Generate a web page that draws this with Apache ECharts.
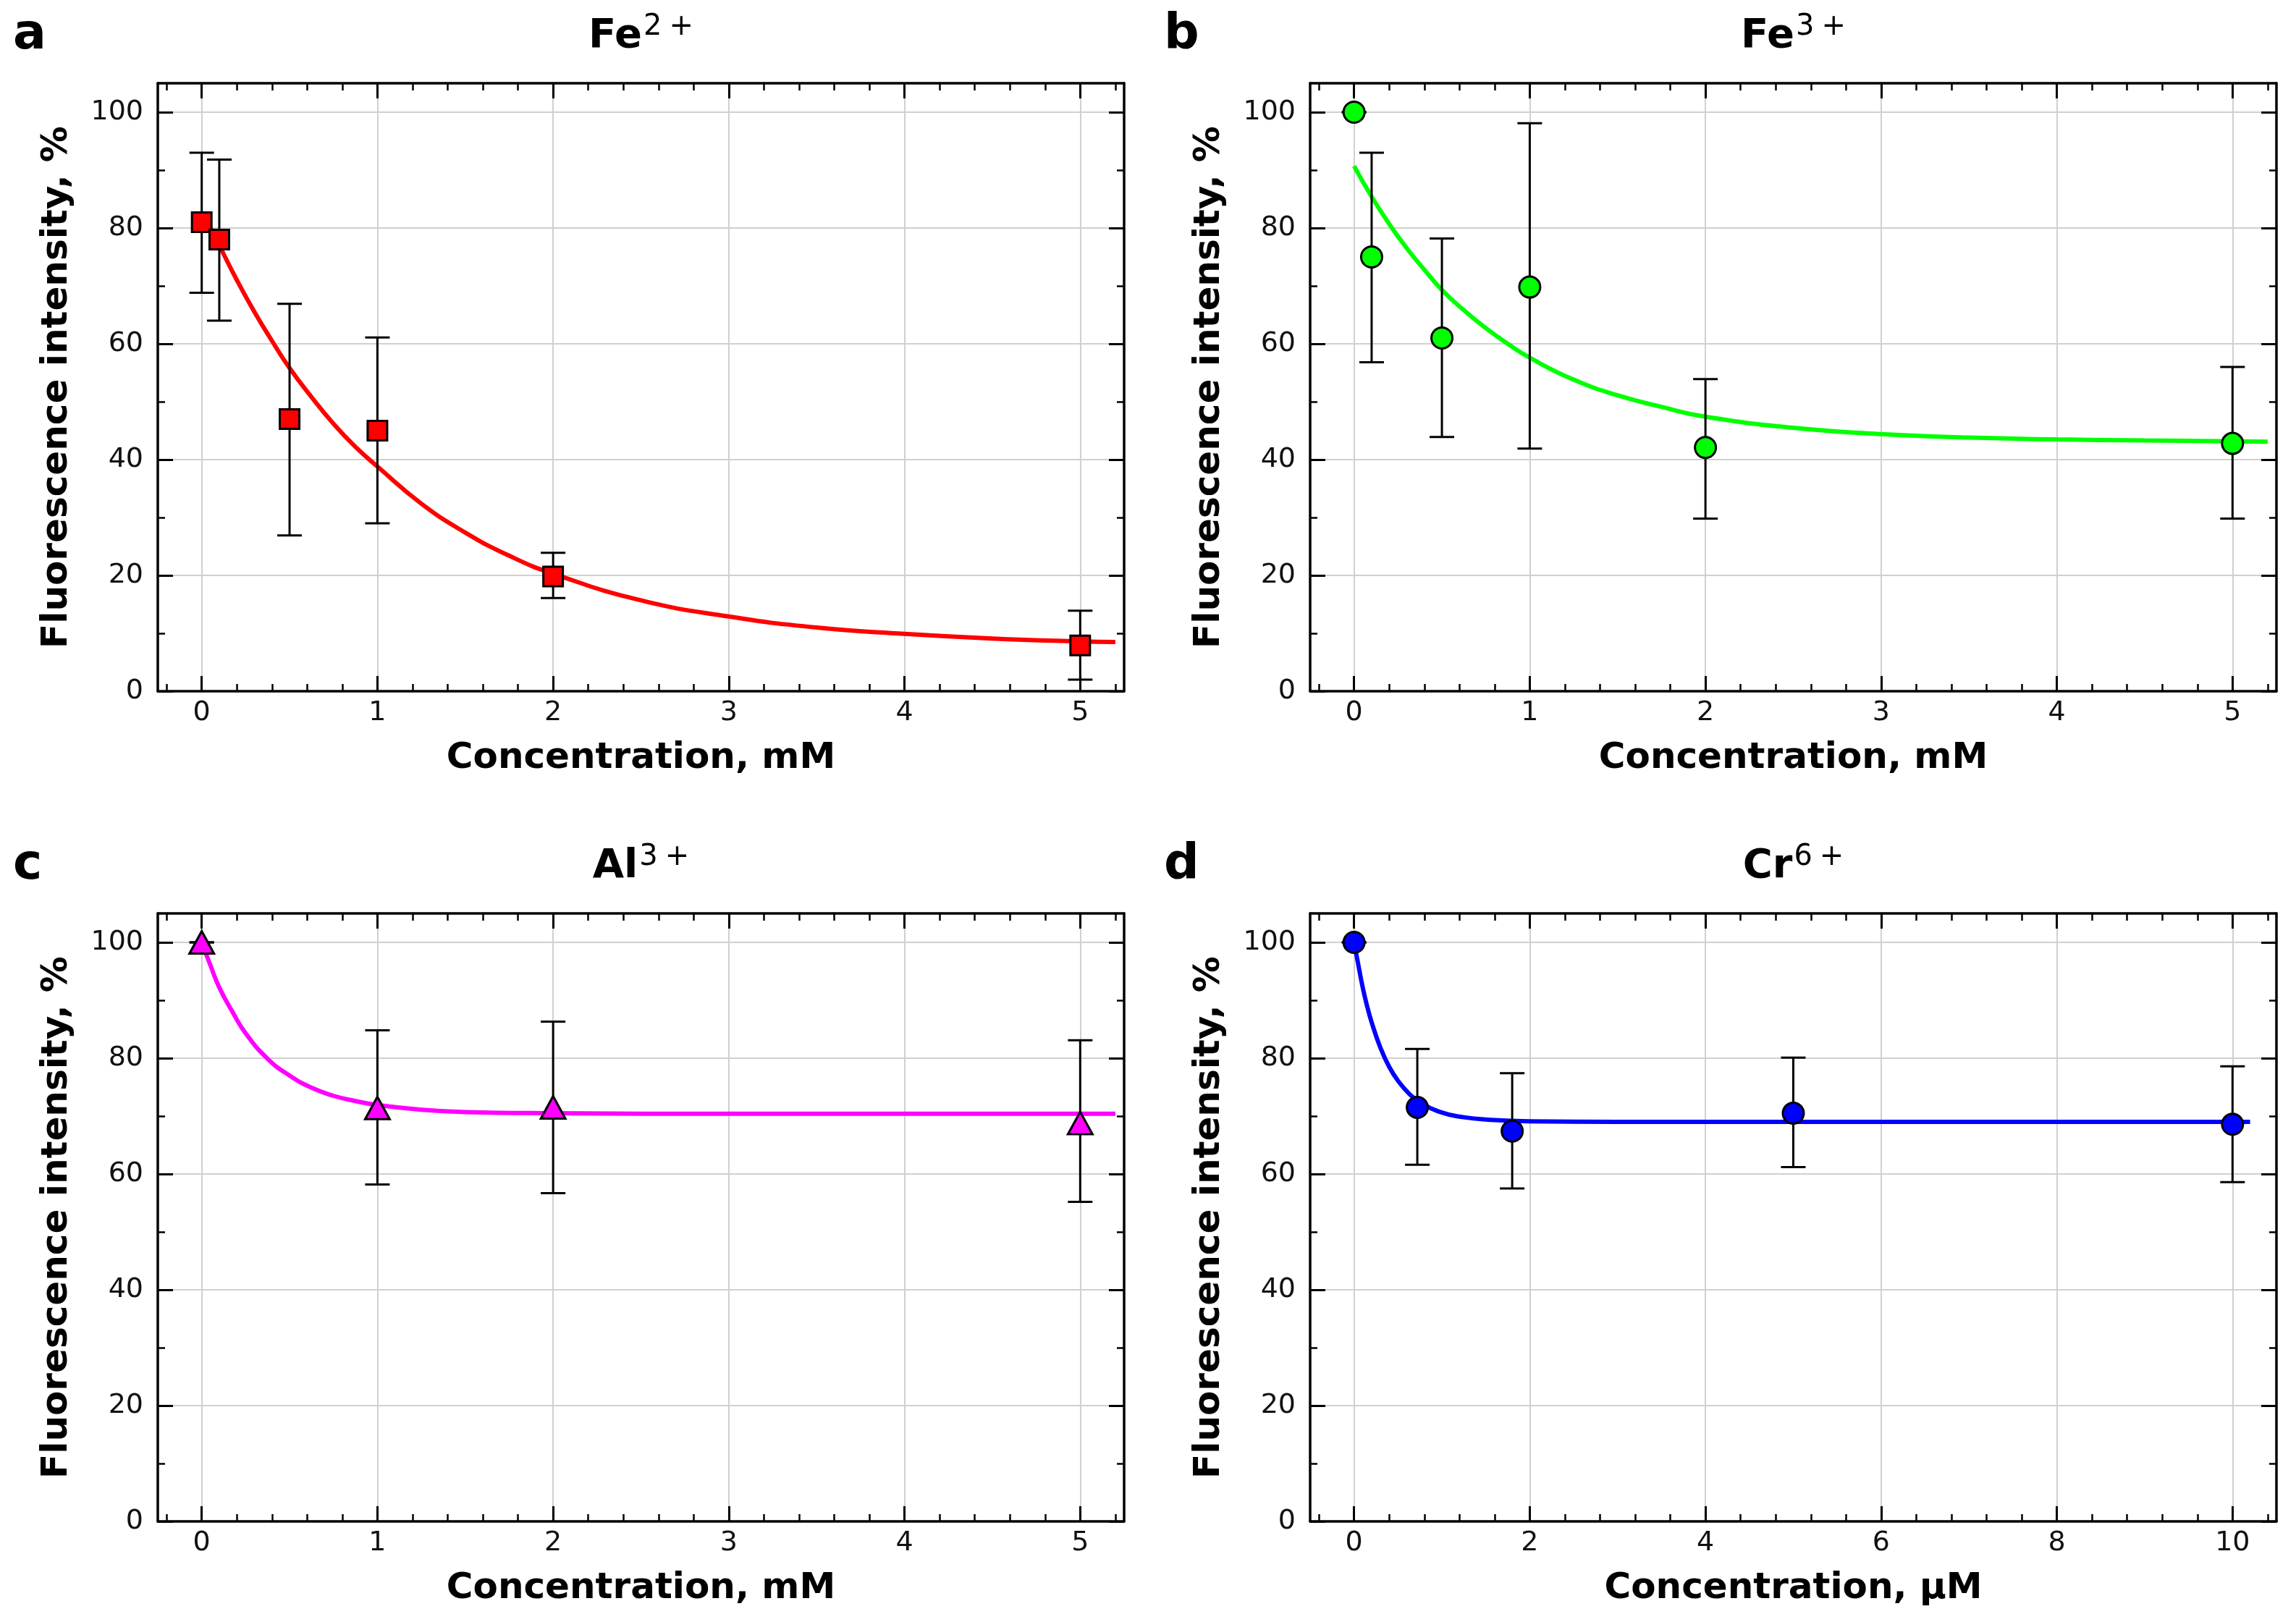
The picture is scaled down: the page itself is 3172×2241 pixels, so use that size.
<!DOCTYPE html>
<html>
<head>
<meta charset="utf-8">
<title>Fluorescence intensity vs metal ion concentration</title>
<script src="https://cdn.jsdelivr.net/npm/echarts@6/dist/echarts.min.js"></script>
<style>
  html, body { margin: 0; padding: 0; background: #fff; }
  #chart { width: 3172px; height: 2241px; }
</style>
</head>
<body>
<div id="chart"></div>
<script>
// ---- data ----
// a: Fe2+
var fe2X  = [0, 0.1, 0.5, 1, 2, 5];
var fe2Y  = [81, 78, 47, 45, 19.8, 7.9];
var fe2Lo = [68.8, 64, 26.9, 29, 16.1, 2];
var fe2Hi = [93, 91.8, 66.9, 61.1, 23.9, 13.9];
var fe2CurveX = [0.05, 0.1, 0.2, 0.3, 0.4, 0.5, 0.625, 0.75, 0.875, 1, 1.25, 1.5, 1.75, 2, 2.5, 3, 3.5, 4, 4.5, 5, 5.2];
var fe2CurveY = [80, 77, 71, 65.5, 60.5, 55.8, 50.8, 46.2, 42.2, 38.8, 32.4, 27.4, 23.4, 20.3, 15.7, 12.9, 11, 9.9, 9.1, 8.6, 8.5];

// b: Fe3+
var fe3X  = [0, 0.1, 0.5, 1, 2, 5];
var fe3Y  = [100, 75, 61, 69.8, 42.1, 42.8];
var fe3Lo = [100, 56.8, 43.9, 41.9, 29.8, 29.8];
var fe3Hi = [100, 93, 78.2, 98.1, 53.9, 56];
var fe3CurveX = [0, 0.1, 0.2, 0.3, 0.4, 0.5, 0.625, 0.75, 0.875, 1, 1.25, 1.5, 1.75, 2, 2.5, 3, 3.5, 4, 4.5, 5.2];
var fe3CurveY = [90.7, 85.4, 80.7, 76.5, 72.8, 69.3, 65.8, 62.7, 60, 57.6, 53.8, 51.1, 49.1, 47.4, 45.5, 44.4, 43.8, 43.5, 43.3, 43.1];

// c: Al3+
var alX  = [0, 1, 2, 5];
var alY  = [100, 71.4, 71.5, 68.8];
var alLo = [100, 58.2, 56.7, 55.2];
var alHi = [100, 84.8, 86.3, 83.1];
var alCurveX = [0, 0.05, 0.1, 0.175, 0.25, 0.375, 0.5, 0.625, 0.75, 0.875, 1, 1.25, 1.5, 2, 3, 4, 5.2];
var alCurveY = [100, 96, 92.2, 88, 84.3, 79.9, 77, 74.9, 73.5, 72.6, 71.9, 71.1, 70.7, 70.5, 70.4, 70.4, 70.4];

// d: Cr6+
var crX  = [0, 0.72, 1.8, 5, 10];
var crY  = [100, 71.5, 67.4, 70.5, 68.6];
var crLo = [100, 61.6, 57.5, 61.2, 58.6];
var crHi = [100, 81.6, 77.4, 80.1, 78.6];
var crCurveX = [0, 0.05, 0.1, 0.15, 0.2, 0.3, 0.4, 0.5, 0.625, 0.75, 1, 1.25, 1.5, 2, 3, 5, 7, 10.2];
var crCurveY = [100, 96, 92.1, 88.9, 86.2, 81.8, 78.5, 76.1, 73.9, 72.4, 70.6, 69.8, 69.4, 69.1, 69, 69, 69, 69];

// tick values
var mMTicks  = [0, 1, 2, 3, 4, 5];
var mMMinor  = [-0.2, 0.2, 0.4, 0.6, 0.8, 1.2, 1.4, 1.6, 1.8, 2.2, 2.4, 2.6, 2.8, 3.2, 3.4, 3.6, 3.8, 4.2, 4.4, 4.6, 4.8, 5.2];
var uMTicks  = [0, 2, 4, 6, 8, 10];
var uMMinor  = [-0.4, 0.4, 0.8, 1.2, 1.6, 2.4, 2.8, 3.2, 3.6, 4.4, 4.8, 5.2, 5.6, 6.4, 6.8, 7.2, 7.6, 8.4, 8.8, 9.2, 9.6, 10.4];
var yTicks   = [0, 20, 40, 60, 80, 100];
var yMinor   = [10, 30, 50, 70, 90];

function pairs(xs, ys) {
    return xs.map(function (v, i) { return [v, ys[i]]; });
}
function bars(xs, lo, hi) {
    return xs.map(function (v, i) { return [v, lo[i], hi[i]]; });
}

var panels = [
    {letter: 'a', ion: 'Fe', charge: '2', unit: 'mM', left: 218,  top: 115,  xMin: -0.25, xMax: 5.25, xMajor: mMTicks, xMinor: mMMinor,
     color: '#ff0000', symbol: 'rect', size: 27, x: fe2X, y: fe2Y, lo: fe2Lo, hi: fe2Hi, cx: fe2CurveX, cy: fe2CurveY},
    {letter: 'b', ion: 'Fe', charge: '3', unit: 'mM', left: 1810, top: 115,  xMin: -0.25, xMax: 5.25, xMajor: mMTicks, xMinor: mMMinor,
     color: '#00ff00', symbol: 'circle', size: 29, x: fe3X, y: fe3Y, lo: fe3Lo, hi: fe3Hi, cx: fe3CurveX, cy: fe3CurveY},
    {letter: 'c', ion: 'Al', charge: '3', unit: 'mM', left: 218,  top: 1262, xMin: -0.25, xMax: 5.25, xMajor: mMTicks, xMinor: mMMinor,
     color: '#ff00ff', symbol: 'triangle', size: [34, 31], x: alX, y: alY, lo: alLo, hi: alHi, cx: alCurveX, cy: alCurveY},
    {letter: 'd', ion: 'Cr', charge: '6', unit: '\u03bcM', left: 1810, top: 1262, xMin: -0.5, xMax: 10.5, xMajor: uMTicks, xMinor: uMMinor,
     color: '#0000ff', symbol: 'circle', size: 29, x: crX, y: crY, lo: crLo, hi: crHi, cx: crCurveX, cy: crCurveY}
];

var W = 1335, H = 840;
var FONT = 'DejaVu Sans';
var grids = [], xAxes = [], yAxes = [], series = [], texts = [];

function axis(gi, pos, min, max, ticks, major, withLabel) {
    return {
        gridIndex: gi, type: 'value', position: pos, min: min, max: max,
        axisLine: {show: major, onZero: false, lineStyle: {color: '#000', width: 3.5}},
        axisTick: {show: true, inside: true, length: major ? 21 : 10, customValues: ticks,
                   lineStyle: {color: '#000', width: major ? 3 : 2.5}},
        axisLabel: {show: withLabel, customValues: ticks, fontSize: 38, fontFamily: FONT, color: '#111',
                    margin: (pos === 'bottom') ? 11 : 20},
        splitLine: {show: withLabel, lineStyle: {color: '#d0d0d0', width: 2}},
        minorTick: {show: false},
        silent: true
    };
}

panels.forEach(function (p, gi) {
    grids.push({left: p.left, top: p.top, width: W, height: H, containLabel: false});

    xAxes.push(axis(gi, 'bottom', p.xMin, p.xMax, p.xMajor, true, true));
    xAxes.push(axis(gi, 'bottom', p.xMin, p.xMax, p.xMinor, false, false));
    xAxes.push(axis(gi, 'top', p.xMin, p.xMax, p.xMajor, true, false));
    xAxes.push(axis(gi, 'top', p.xMin, p.xMax, p.xMinor, false, false));
    yAxes.push(axis(gi, 'left', 0, 105, yTicks, true, true));
    yAxes.push(axis(gi, 'left', 0, 105, yMinor, false, false));
    yAxes.push(axis(gi, 'right', 0, 105, yTicks, true, false));
    yAxes.push(axis(gi, 'right', 0, 105, yMinor, false, false));

    var ai = gi * 4;
    // fitted curve
    series.push({
        type: 'line', xAxisIndex: ai, yAxisIndex: ai,
        data: pairs(p.cx, p.cy), smooth: 0.5,
        showSymbol: false, symbol: 'none',
        lineStyle: {color: p.color, width: 6}, z: 2, silent: true
    });
    // error bars
    series.push({
        type: 'custom', xAxisIndex: ai, yAxisIndex: ai,
        data: bars(p.x, p.lo, p.hi),
        encode: {x: 0, y: [1, 2]},
        renderItem: function (params, api) {
            var x = api.value(0);
            var lo = api.coord([x, api.value(1)]);
            var hi = api.coord([x, api.value(2)]);
            var w = 17;
            var st = {stroke: '#000', lineWidth: 3};
            return {
                type: 'group',
                children: [
                    {type: 'line', shape: {x1: hi[0], y1: hi[1], x2: lo[0], y2: lo[1]}, style: st},
                    {type: 'line', shape: {x1: hi[0] - w, y1: hi[1], x2: hi[0] + w, y2: hi[1]}, style: st},
                    {type: 'line', shape: {x1: lo[0] - w, y1: lo[1], x2: lo[0] + w, y2: lo[1]}, style: st}
                ]
            };
        },
        z: 3, silent: true
    });
    // markers
    series.push({
        type: 'scatter', xAxisIndex: ai, yAxisIndex: ai,
        data: pairs(p.x, p.y), symbol: p.symbol, symbolSize: p.size,
        itemStyle: {color: p.color, borderColor: '#000', borderWidth: 3, opacity: 1},
        z: 4, silent: true
    });

    var cxm = p.left + W / 2;
    // panel letter
    texts.push({type: 'text', x: p.left - 200 + (p.left > 1000 ? -2 : 0), y: p.top - 66,
        style: {text: p.letter, font: 'bold 68px "' + FONT + '"', fill: '#000', align: 'left', verticalAlign: 'middle'}});
    // title
    texts.push({type: 'text', x: cxm, y: p.top - 65,
        style: {
            text: '{b|' + p.ion + '}{s|' + p.charge + '}{s|\u2009+}',
            align: 'center', verticalAlign: 'middle',
            rich: {
                b: {font: 'bold 56px "' + FONT + '"', fill: '#000', lineHeight: 64, verticalAlign: 'middle'},
                s: {font: '40px "' + FONT + '"', fill: '#000', lineHeight: 34, verticalAlign: 'top', padding: [0, 0, 0, 2]}
            }
        }});
    // x label
    texts.push({type: 'text', x: cxm, y: p.top + H + 93,
        style: {text: 'Concentration, ' + p.unit, font: 'bold 50px "' + FONT + '"', fill: '#000', align: 'center', verticalAlign: 'middle'}});
    // y label
    texts.push({type: 'text', x: p.left - 139, y: p.top + H / 2, rotation: Math.PI / 2,
        style: {text: 'Fluorescence intensity, %', font: 'bold 50px "' + FONT + '"', fill: '#000', align: 'center', verticalAlign: 'middle'}});
});

var myChart = echarts.init(document.getElementById('chart'));
myChart.setOption({
    animation: false,
    backgroundColor: '#fff',
    grid: grids,
    xAxis: xAxes,
    yAxis: yAxes,
    series: series,
    graphic: texts
});
</script>
</body>
</html>
